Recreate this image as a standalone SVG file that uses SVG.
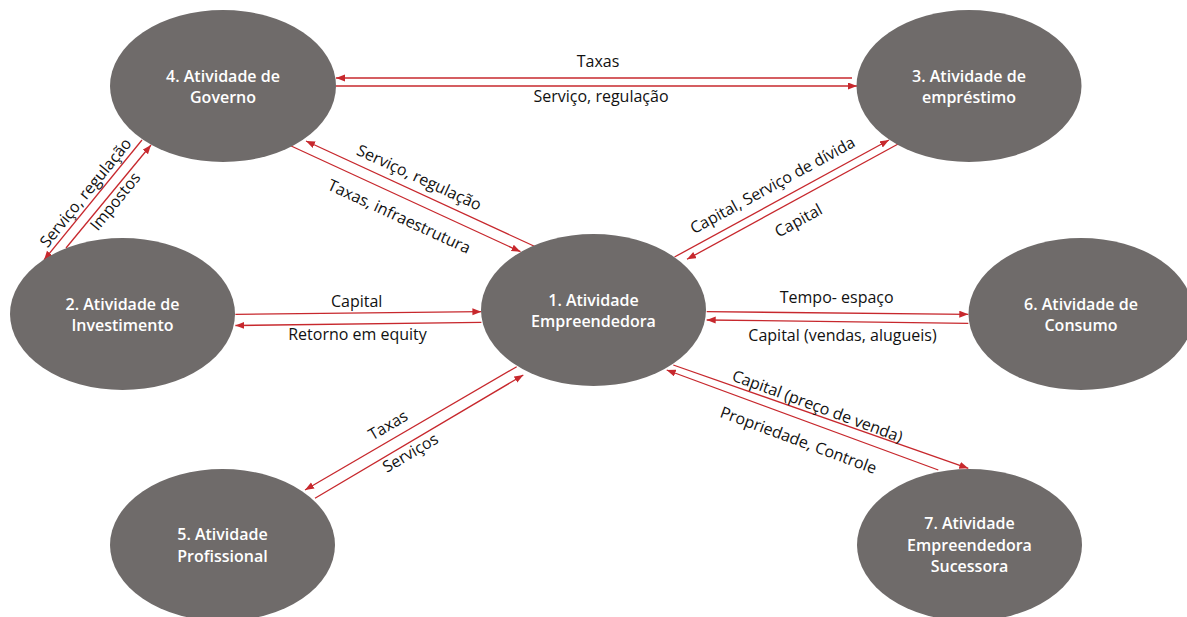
<svg xmlns="http://www.w3.org/2000/svg" width="1187" height="617" viewBox="0 0 1187 617">
<style>
.node ellipse{fill:#6f6b6a}
.node text{fill:#ffffff;font-family:"Open Sans","Liberation Sans",sans-serif;font-size:16px;font-weight:600;text-anchor:middle}
.edge line{stroke:#c7282d;stroke-width:1.3;fill:none;marker-end:url(#arr)}
.lbl text{fill:#111111;font-family:"Open Sans","Liberation Sans",sans-serif;font-size:16px;text-anchor:middle}
</style>
<defs>
<marker id="arr" markerUnits="userSpaceOnUse" markerWidth="10" markerHeight="8" refX="9" refY="3.5" orient="auto">
<path d="M0,0 L9,3.5 L0,7 z" fill="#c7282d"/>
</marker>
</defs>
<rect width="1187" height="617" fill="#ffffff"/>
<g id="connectors">
<g class="edge">
<line x1="852" y1="78" x2="336" y2="78"/>
<line x1="336" y1="86" x2="857" y2="86"/>
<line x1="142" y1="140" x2="44" y2="260"/>
<line x1="66" y1="248" x2="151" y2="145"/>
<line x1="536" y1="247" x2="306" y2="141"/>
<line x1="289" y1="145" x2="520.5" y2="251.7"/>
<line x1="674.5" y1="257" x2="889" y2="140"/>
<line x1="900.4" y1="142.7" x2="687" y2="259.3"/>
<line x1="235.4" y1="314.3" x2="481.4" y2="311.7"/>
<line x1="481.4" y1="322.3" x2="235.4" y2="325.5"/>
<line x1="706.7" y1="311.7" x2="968.3" y2="314.3"/>
<line x1="968.3" y1="323.3" x2="706.7" y2="320"/>
<line x1="516.7" y1="366.7" x2="305" y2="490"/>
<line x1="315" y1="498.3" x2="523.3" y2="375"/>
<line x1="673.3" y1="365" x2="968.3" y2="468.3"/>
<line x1="938.3" y1="470" x2="666.7" y2="370"/>
</g>
<g class="lbl">
<text x="598" y="66.5">Taxas</text>
<text x="601" y="101.5">Serviço, regulação</text>
<text transform="translate(86,193) rotate(-51)" y="5">Serviço, regulação</text>
<text transform="translate(115.6,201.7) rotate(-51)" y="5">Impostos</text>
<text transform="translate(419,178) rotate(24.8)" y="5">Serviço, regulação</text>
<text transform="translate(399,217) rotate(24.8)" y="5">Taxas, infraestrutura</text>
<text transform="translate(772.8,185.7) rotate(-28.6)" y="5">Capital, Serviço de dívida</text>
<text transform="translate(798.7,221) rotate(-28.6)" y="5">Capital</text>
<text x="356.7" y="306.5">Capital</text>
<text x="357.5" y="339.5">Retorno em equity</text>
<text x="836.7" y="303">Tempo- espaço</text>
<text x="842.5" y="340.5">Capital (vendas, alugueis)</text>
<text transform="translate(388.3,425.7) rotate(-30.4)" y="5">Taxas</text>
<text transform="translate(410.7,453.3) rotate(-30.4)" y="5">Serviços</text>
<text transform="translate(817.3,406.7) rotate(20.3)" y="5">Capital (preço de venda)</text>
<text transform="translate(798.3,440.7) rotate(20.3)" y="5">Propriedade, Controle</text>
</g>
</g>
<g id="node4" class="node">
<ellipse cx="223" cy="86" rx="113" ry="76"/>
<text x="223" y="81.5">4. Atividade de</text>
<text x="223" y="103">Governo</text>
</g>
<g id="node3" class="node">
<ellipse cx="969" cy="86" rx="112.5" ry="76"/>
<text x="969" y="81.5">3. Atividade de</text>
<text x="969" y="103">empréstimo</text>
</g>
<g id="node2" class="node">
<ellipse cx="122.5" cy="314" rx="112.5" ry="76"/>
<text x="122.5" y="309.5">2. Atividade de</text>
<text x="122.5" y="331">Investimento</text>
</g>
<g id="node1" class="node">
<ellipse cx="593.5" cy="310" rx="112.5" ry="76"/>
<text x="593.5" y="305.5">1. Atividade</text>
<text x="593.5" y="327">Empreendedora</text>
</g>
<g id="node6" class="node">
<ellipse cx="1081" cy="314" rx="112.5" ry="76"/>
<text x="1081" y="309.5">6. Atividade de</text>
<text x="1081" y="331">Consumo</text>
</g>
<g id="node5" class="node">
<ellipse cx="222.5" cy="545" rx="112.5" ry="76"/>
<text x="222.5" y="540">5. Atividade</text>
<text x="222.5" y="561.5">Profissional</text>
</g>
<g id="node7" class="node">
<ellipse cx="969.5" cy="545" rx="112.5" ry="76"/>
<text x="969.5" y="529">7. Atividade</text>
<text x="969.5" y="550.5">Empreendedora</text>
<text x="969.5" y="572">Sucessora</text>
</g>
</svg>
